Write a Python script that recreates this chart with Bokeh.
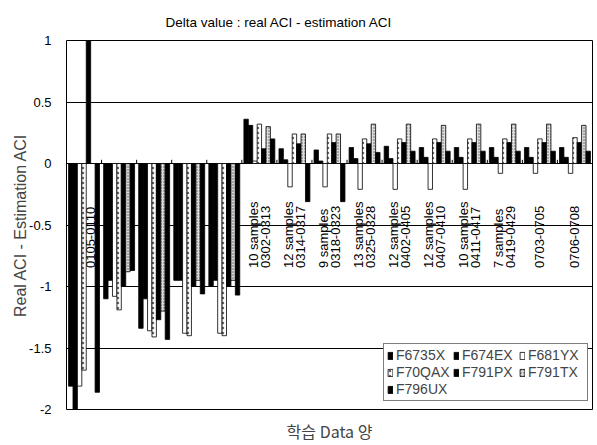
from math import pi
from bokeh.plotting import figure
from bokeh.models import Range1d, FixedTicker, Legend, LegendItem, Title, NumeralTickFormatter
from bokeh.core.properties import value
from bokeh.embed import file_html
from bokeh.resources import INLINE

# ---- data ----
group_labels = [
    " \n0105-0110", "", "", "", "",
    "10 samples\n0302-0313",
    "12 samples\n0314-0317",
    "9 samples\n0318-0323",
    "13 samples\n0325-0328",
    "12 samples\n0402-0405",
    "12 samples\n0407-0410",
    "10 samples\n0411-0417",
    "7 samples\n0419-0429",
    "0703-0705",
    "0706-0708",
]
series_names = ["F6735X", "F674EX", "F681YX", "F70QAX", "F791PX", "F791TX", "F796UX"]
F6735X = [-1.81, -1.10, -1.34, -0.95, -1.00, 0.36, 0.12, 0.11, 0.13, 0.14, 0.13, 0.13, 0.13, 0.13, 0.13]
F674EX = [-2.15, -0.95, -1.10, -0.95, -0.95, 0.31, 0.03, 0.02, 0.04, 0.04, 0.05, 0.05, 0.05, 0.05, 0.05]
F681YX = [-1.81, -1.08, -1.36, -1.38, -1.38, 0.02, -0.19, -0.19, -0.21, -0.21, -0.21, -0.21, -0.08, -0.08, -0.08]
F70QAX = [-1.68, -1.19, -1.41, -1.40, -1.40, 0.32, 0.24, 0.24, 0.20, 0.20, 0.20, 0.20, 0.20, 0.20, 0.21]
F791PX = [1.05, -1.00, -1.27, -1.00, -1.00, 0.12, 0.16, 0.17, 0.16, 0.17, 0.17, 0.17, 0.17, 0.17, 0.17]
F791TX = [0.00, -0.88, -1.20, -0.95, -0.95, 0.30, 0.24, 0.24, 0.32, 0.32, 0.31, 0.32, 0.32, 0.32, 0.31]
F796UX = [-1.86, -0.87, -1.43, -1.06, -1.07, 0.20, -0.31, -0.31, 0.09, 0.10, 0.10, 0.10, 0.10, 0.10, 0.10]
series_values = [F6735X, F674EX, F681YX, F70QAX, F791PX, F791TX, F796UX]
y_ticks = [-2, -1.5, -1, -0.5, 0, 0.5, 1]
title_text = "Delta value : real ACI - estimation ACI"

# ---- styles ----
FONT = "Liberation Sans"
styles = [
    dict(fill_color="black"),
    dict(fill_color="black"),
    dict(fill_color="white"),
    dict(fill_color="white", hatch_pattern="dot", hatch_scale=5, hatch_color="#666666"),
    dict(fill_color="black"),
    dict(fill_color="#dddddd", hatch_pattern="dot", hatch_scale=3, hatch_color="#555555"),
    dict(fill_color="black"),
]

n = len(group_labels)
centers = [i + 0.5 for i in range(n)]
bar_w = 0.126
label_y = -0.85

p = figure(width=595, height=445, output_backend="svg", toolbar_location=None,
           x_range=Range1d(0, n), y_range=Range1d(-2, 1),
           min_border_left=66, min_border_right=3, min_border_top=40, min_border_bottom=35)
p.background_fill_color = "white"
p.border_fill_color = "white"
p.outline_line_color = "black"
p.outline_line_width = 1

p.title = Title(text=title_text, align="left", offset=99,
                text_font=FONT, text_font_size="13.5px", text_font_style="normal",
                text_color="black", standoff=22)

# x axis: only the title
p.xaxis.ticker = FixedTicker(ticks=[])
p.xaxis.axis_line_color = None
p.xaxis.major_tick_line_color = None
p.xaxis.minor_tick_line_color = None
p.xaxis.major_label_text_font_size = "0px"
p.xaxis.axis_label = "학습 Data 양"
p.xaxis.axis_label_text_font = "Noto Sans CJK KR"
p.xaxis.axis_label_text_font_size = "16px"
p.xaxis.axis_label_text_font_style = "normal"
p.xaxis.axis_label_standoff = 9

# y axis
p.yaxis.ticker = FixedTicker(ticks=y_ticks)
p.yaxis.formatter = NumeralTickFormatter(format="0.[0]")
p.yaxis.axis_line_color = None
p.yaxis.major_tick_line_color = None
p.yaxis.minor_tick_line_color = None
p.yaxis.major_label_text_font = FONT
p.yaxis.major_label_text_font_size = "13px"
p.yaxis.major_label_text_color = "black"
p.yaxis.major_label_standoff = 9
p.yaxis.axis_label = "Real ACI - Estimation ACI"
p.yaxis.axis_label_text_font = FONT
p.yaxis.axis_label_text_font_size = "16px"
p.yaxis.axis_label_text_font_style = "normal"
p.yaxis.axis_label_standoff = -3

p.xgrid.grid_line_color = None
p.ygrid.ticker = FixedTicker(ticks=y_ticks)
p.ygrid.grid_line_color = "black"
p.ygrid.grid_line_alpha = 1
p.ygrid.grid_line_width = 1

# category labels (drawn under the bars)
p.text(x=centers, y=[label_y] * n, text=group_labels, angle=pi / 2,
       text_align="left", text_baseline="middle", text_font=value(FONT),
       text_font_size="13px", text_line_height=0.8, text_color="black")

# boundary tick marks on the zero line
bounds = list(range(1, n))
p.segment(x0=bounds, y0=[0] * len(bounds), x1=bounds, y1=[0.03] * len(bounds),
          line_color="black", line_width=1)

items = []
for j, (name, vals) in enumerate(zip(series_names, series_values)):
    xs = [c + (j - 3) * bar_w for c in centers]
    r = p.vbar(x=xs, top=vals, bottom=0, width=bar_w, line_color="black",
               line_width=0.8, **styles[j])
    items.append(LegendItem(label=name, renderers=[r]))

legend = Legend(items=items, location=(317, 8), orientation="horizontal", ncols=3,
                border_line_color="black", border_line_width=1,
                background_fill_color="white", background_fill_alpha=1,
                label_text_font=FONT, label_text_font_size="14px",
                glyph_width=6, glyph_height=9, label_standoff=3, spacing=1,
                label_width=56, padding=3, margin=0, label_height=14)
p.add_layout(legend)

open("out.html", "w").write(file_html(p, INLINE))
